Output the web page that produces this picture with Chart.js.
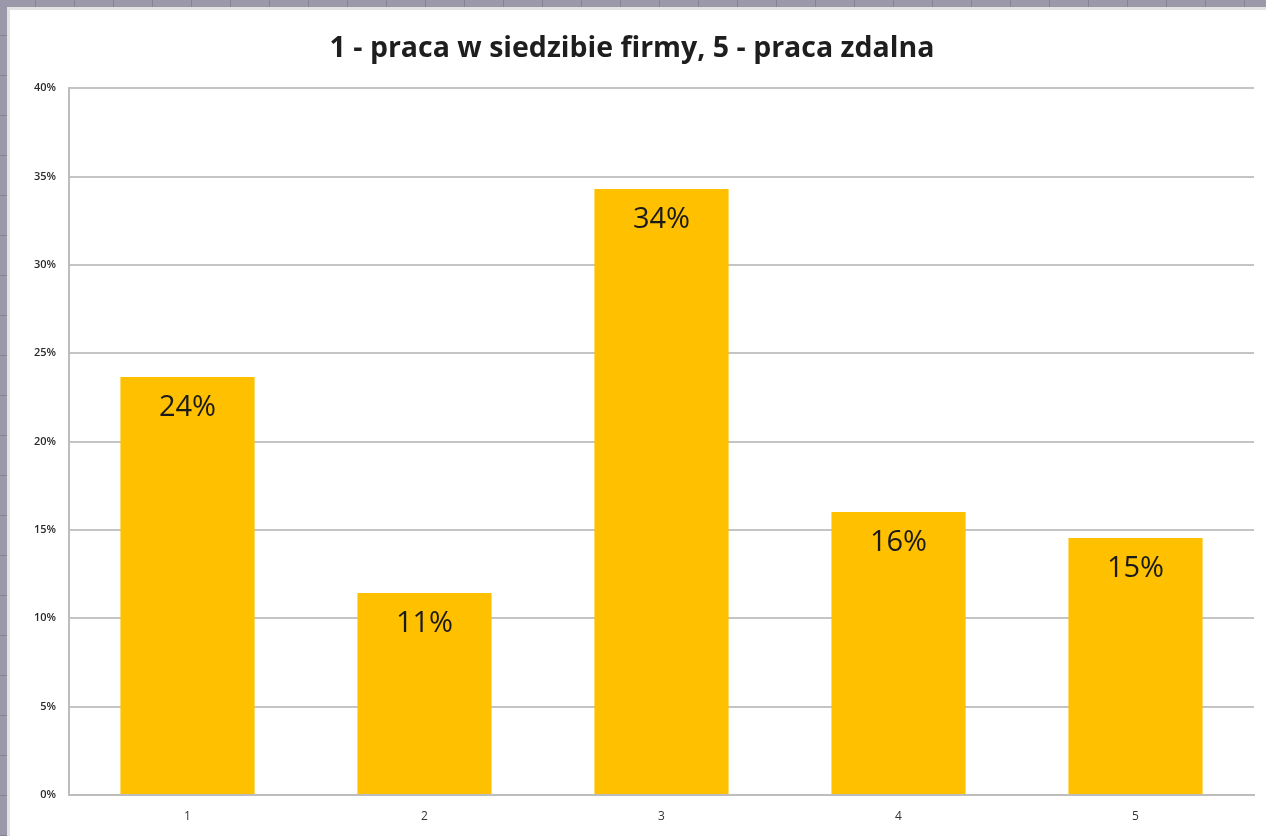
<!DOCTYPE html>
<html>
<head>
<meta charset="utf-8">
<script src="https://cdn.jsdelivr.net/npm/chart.js@4"></script>
<style>
  html, body { margin: 0; padding: 0; }
  body {
    width: 1266px; height: 836px; overflow: hidden; position: relative;
    background-color: #9b99a9;
    background-image:
      linear-gradient(to right, #85838f 1px, transparent 1px),
      linear-gradient(to bottom, #85838f 1px, transparent 1px);
    background-size: 39px 40px;
    background-position: -4px -5px;
  }
  #sheet {
    position: absolute; left: 7px; top: 7px; width: 1270px; height: 840px;
    background: #fff; border-left: 3px solid #e2e2e2; border-top: 3px solid #e2e2e2;
  }
  #wrap { position: absolute; left: 10px; top: 12px; width: 1256px; height: 824px; }
</style>
</head>
<body>
<div id="sheet"></div>
<div id="wrap"><canvas id="myChart"></canvas></div>
<script>
const categories = ['1', '2', '3', '4', '5'];
const values = [23.65, 11.43, 34.29, 16.01, 14.55];
const yTicks = [0, 5, 10, 15, 20, 25, 30, 35, 40];

// labels inside bars, like Excel data labels
const barLabels = {
  id: 'barLabels',
  afterDatasetsDraw(chart) {
    const ctx = chart.ctx;
    const meta = chart.getDatasetMeta(0);
    ctx.save();
    ctx.font = '29px "Open Sans", sans-serif';
    ctx.fillStyle = '#1a1a1a';
    ctx.textAlign = 'center';
    ctx.textBaseline = 'middle';
    meta.data.forEach(function (bar, i) {
      ctx.fillText(Math.round(values[i]) + '%', bar.x, bar.y + 31);
    });
    ctx.restore();
  }
};

var ctx = document.getElementById('myChart').getContext('2d');
var myChart = new Chart(ctx, {
  type: 'bar',
  data: {
    labels: categories,
    datasets: [{
      data: values,
      backgroundColor: '#ffc000',
      barPercentage: 0.566,
      categoryPercentage: 1.0
    }]
  },
  options: {
    responsive: true,
    maintainAspectRatio: false,
    animation: false,
    layout: { padding: { left: 0, right: 12, top: 0, bottom: 13 } },
    plugins: {
      legend: { display: false },
      tooltip: { enabled: false },
      title: {
        display: true,
        text: '1 - praca w siedzibie firmy, 5 - praca zdalna',
        color: '#1e1e1e',
        font: { family: '"Open Sans", sans-serif', size: 28.5, weight: 'bold' },
        padding: { top: 20, bottom: 22 }
      }
    },
    scales: {
      x: {
        afterFit(scale) { scale.height = 28; },
        grid: { display: false, drawTicks: false },
        border: { color: '#bdbdbd', width: 2 },
        ticks: { color: '#333', font: { family: '"Open Sans", sans-serif', size: 12 }, padding: 14 }
      },
      y: {
        min: 0,
        max: 40,
        afterFit(scale) { scale.width = 59; },
        afterBuildTicks(scale) { scale.ticks = yTicks.map(v => ({ value: v })); },
        grid: { color: '#c4c4c4', lineWidth: 2, drawTicks: false },
        border: { color: '#bdbdbd', width: 2 },
        ticks: {
          color: '#2a2a2a',
          font: { family: '"Open Sans", sans-serif', size: 11, weight: '600' },
          padding: 13,
          callback: v => v + '%'
        }
      }
    }
  },
  plugins: [barLabels]
});
</script>
</body>
</html>
